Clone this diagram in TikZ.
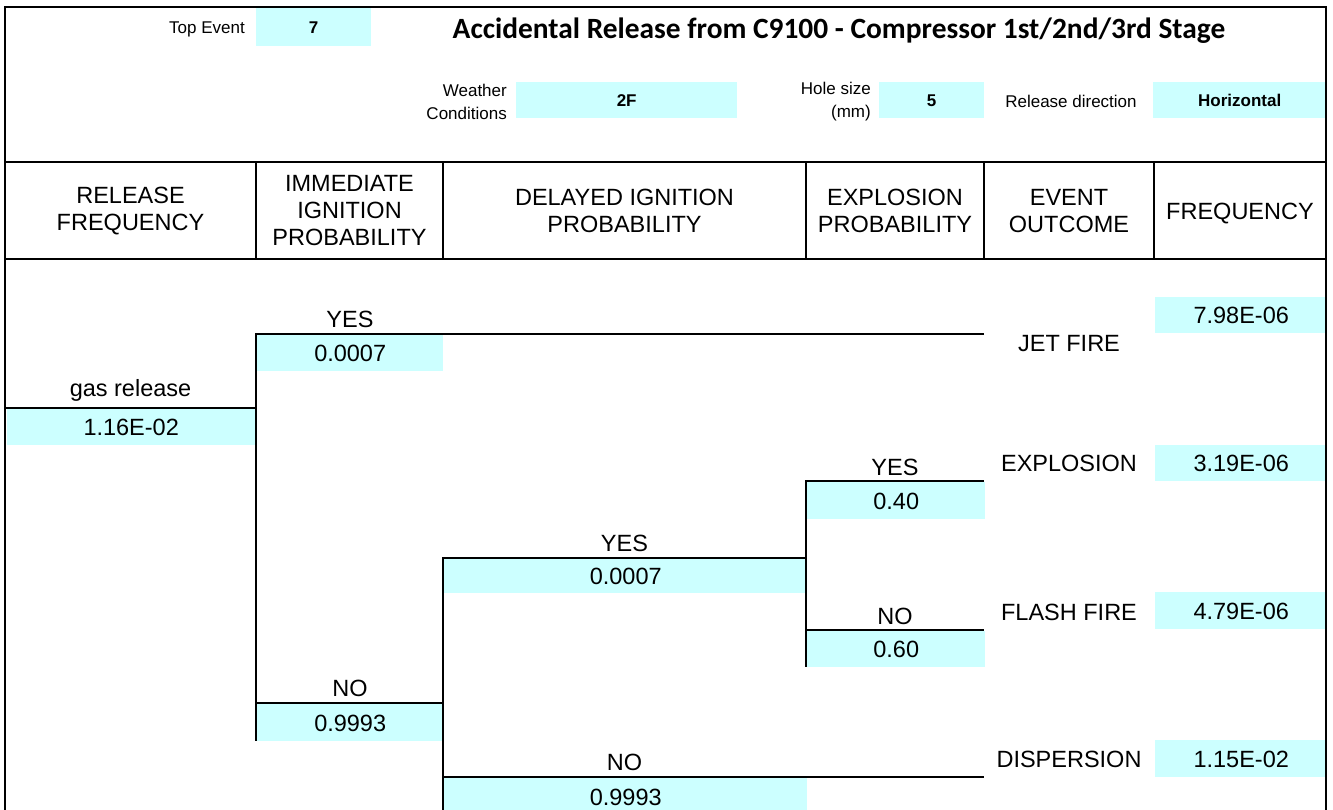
\documentclass[tikz,border=0pt]{standalone}
\usepackage{fontspec}
\setmainfont{Liberation Sans}
\newfontfamily\titlefont{Carlito}
\definecolor{cellcyan}{HTML}{CCFFFF}
\begin{document}
\begin{tikzpicture}[x=1pt,y=-1pt,
  big/.style={font=\fontsize{23.5}{27}\selectfont, inner sep=0pt},
  small/.style={font=\fontsize{17}{23}\selectfont, inner sep=0pt},
  lbl/.style={big, text height=16.8pt, text depth=0pt},
  slbl/.style={small, text height=12.2pt, text depth=0pt},
  valbox/.style={lbl, fill=cellcyan, anchor=north west},
  sbox/.style={slbl, font=\fontsize{17}{23}\selectfont\bfseries, fill=cellcyan, anchor=north west},
  frame/.style={line width=2.4pt},
  sep/.style={line width=2pt},
  tree/.style={line width=2pt}
]
\useasboundingbox (0,0) rectangle (1333,810);

% ---------- top information area ----------
\node[slbl, anchor=east] (tetxt) at (245,27) {Top Event};
\node[sbox, minimum width=115, minimum height=38] (teval) at (256,8) {7};
\node[inner sep=0pt, font=\titlefont\fontsize{29.4}{33}\selectfont\bfseries, text height=18.9pt, text depth=0pt] (title) at (839,29)
  {Accidental Release from C9100 - Compressor 1st/2nd/3rd Stage};

\node[small, align=right, anchor=east] (wtxt) at (507,102) {Weather\\Conditions};
\node[sbox, minimum width=221, minimum height=36] (wval) at (516,82) {2F};
\node[small, align=right, anchor=east] (htxt) at (871,102) {Hole size\\(mm)};
\node[sbox, minimum width=105, minimum height=36] (hval) at (879,82) {5};
\node[slbl] (rtxt) at (1071,101) {Release direction};
\node[sbox, minimum width=173, minimum height=36] (rval) at (1153,82) {Horizontal};

% ---------- column headers ----------
\node[big, align=center] (h1) at (130.5,211) {RELEASE\\FREQUENCY};
\node[big, align=center] (h2) at (349.5,211) {IMMEDIATE\\IGNITION\\PROBABILITY};
\node[big, align=center] (h3) at (624.5,211) {DELAYED IGNITION\\PROBABILITY};
\node[big, align=center] (h4) at (895,211) {EXPLOSION\\PROBABILITY};
\node[big, align=center] (h5) at (1069,211) {EVENT\\OUTCOME};
\node[lbl] (h6) at (1240,211) {FREQUENCY};

% ---------- value boxes ----------
\node[valbox, minimum width=248, minimum height=36] (relval) at (7,409) {1.16E-02};
\node[valbox, minimum width=186, minimum height=36] (iyval) at (257,335) {0.0007};
\node[valbox, minimum width=186, minimum height=37] (inval) at (257,704) {0.9993};
\node[valbox, minimum width=363, minimum height=34] (dyval) at (444,559) {0.0007};
\node[valbox, minimum width=363, minimum height=38] (dnval) at (444,778) {0.9993};
\node[valbox, minimum width=178, minimum height=37] (eyval) at (807,482) {0.40};
\node[valbox, minimum width=178, minimum height=36] (enval) at (807,631) {0.60};

\node[valbox, minimum width=172, minimum height=36] (f1) at (1155,297) {7.98E-06};
\node[valbox, minimum width=172, minimum height=36] (f2) at (1155,445) {3.19E-06};
\node[valbox, minimum width=172, minimum height=37] (f3) at (1155,592) {4.79E-06};
\node[valbox, minimum width=172, minimum height=37] (f4) at (1155,740) {1.15E-02};

% ---------- branch labels ----------
\node[lbl] (gas) at (130.5,388.5) {gas release};
\node[lbl] (iy) at (350,319.5) {YES};
\node[lbl] (in) at (350,688.5) {NO};
\node[lbl] (dy) at (624.5,543.5) {YES};
\node[lbl] (dn) at (624.5,762.5) {NO};
\node[lbl] (ey) at (895,467.5) {YES};
\node[lbl] (en) at (895,616) {NO};

% ---------- outcomes ----------
\node[lbl] (o1) at (1069,343) {JET FIRE};
\node[lbl] (o2) at (1069,463) {EXPLOSION};
\node[lbl] (o3) at (1069,612) {FLASH FIRE};
\node[lbl] (o4) at (1069,759) {DISPERSION};

% ---------- frame and header grid ----------
\coordinate (tl) at (5,7);
\coordinate (tr) at (1326,7);
\coordinate (bl) at (5,812);
\coordinate (br) at (1326,812);
\draw[frame] (bl) -- (tl) -- (tr) -- (br);
\coordinate (hl1) at (5,162);   \coordinate (hr1) at (1326,162);
\coordinate (hl2) at (5,259);   \coordinate (hr2) at (1326,259);
\draw[sep] (hl1) -- (hr1);
\draw[sep] (hl2) -- (hr2);
\foreach \x/\n in {256/a,443/b,806/c,984/d,1154/e}{
  \coordinate (ct\n) at (\x,162);
  \coordinate (cb\n) at (\x,259);
  \draw[sep] (ct\n) -- (cb\n);
}

% ---------- event tree connectors ----------
\coordinate (r0) at (5,408);
\coordinate (r1) at (256,408);
\coordinate (i0) at (256,334);
\coordinate (i1) at (984,334);
\coordinate (n0) at (256,703);
\coordinate (n1) at (443,703);
\coordinate (ib) at (256,741);
\coordinate (d0) at (443,558);
\coordinate (d1) at (806,558);
\coordinate (m0) at (443,777);
\coordinate (m1) at (984,777);
\coordinate (db) at (443,812);
\coordinate (e0) at (806,481);
\coordinate (e1) at (984,481);
\coordinate (x0) at (806,630);
\coordinate (x1) at (984,630);
\coordinate (eb) at (806,667);

\draw[tree] (r0) -- (r1);
\draw[tree] (i1) -- (i0) -- (ib);
\draw[tree] (n0) -- (n1);
\draw[tree] (d1) -- (d0) -- (db);
\draw[tree] (m0) -- (m1);
\draw[tree] (e1) -- (e0) -- (eb);
\draw[tree] (x0) -- (x1);
\end{tikzpicture}
\end{document}
